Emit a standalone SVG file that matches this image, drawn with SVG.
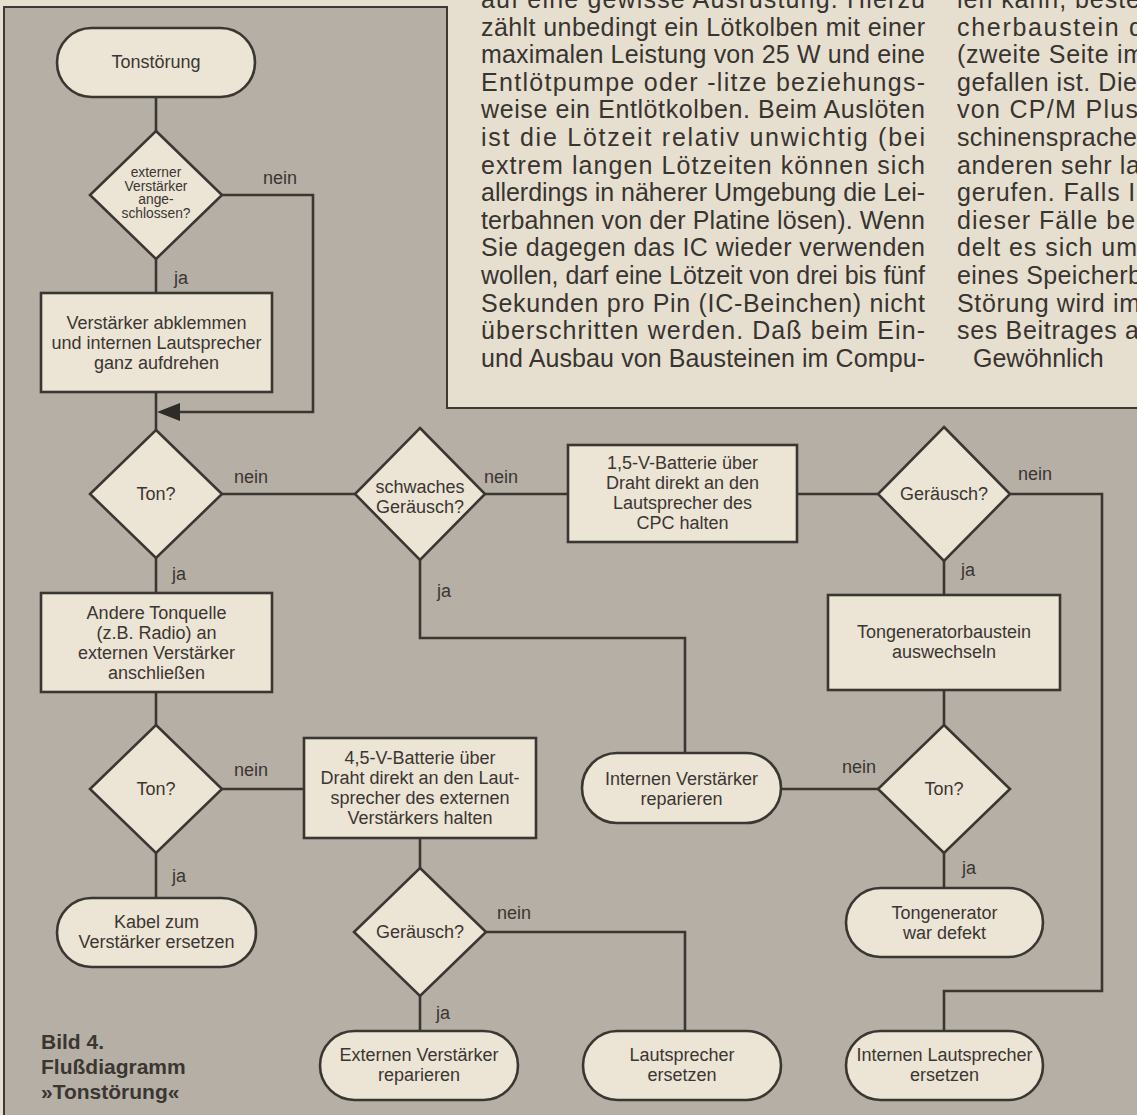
<svg xmlns="http://www.w3.org/2000/svg" width="1137" height="1115" viewBox="0 0 1137 1115">
<style>
.bg{fill:#e6dfd0}
.panel{fill:#b6afa5}
.border{fill:none;stroke:#3d3a36;stroke-width:2}
.n{fill:#ece4d5;stroke:#3a3733;stroke-width:2.6}
.c{fill:none;stroke:#3a3733;stroke-width:2.6}
.t{font-family:"Liberation Sans",Arial,Helvetica,sans-serif;font-size:18px;fill:#3a3632;text-anchor:middle}
.ts{font-family:"Liberation Sans",Arial,Helvetica,sans-serif;font-size:13.8px;fill:#3a3632;text-anchor:middle}
.l{font-family:"Liberation Sans",Arial,Helvetica,sans-serif;font-size:18px;fill:#3a3632;text-anchor:middle}
.body{font-family:"Liberation Sans",Arial,Helvetica,sans-serif;font-size:25px;fill:#38342f}
.cap{font-family:"Liberation Sans",Arial,Helvetica,sans-serif;font-size:21px;font-weight:bold;fill:#3a3632}
</style>
<rect class="bg" x="0" y="0" width="1137" height="1115"/>
<polygon class="panel" points="4,7 447,7 447,408 1137,408 1137,1115 4,1115"/>
<polyline class="border" points="4,1115 4,7 447,7 447,408 1137,408"/>

<g id="textblock">
<text class="body" x="481" y="8" textLength="444" lengthAdjust="spacing">auf eine gewisse Ausrüstung. Hierzu</text>
<text class="body" x="481" y="35.6" textLength="444" lengthAdjust="spacing">zählt unbedingt ein Lötkolben mit einer</text>
<text class="body" x="481" y="63.2" textLength="444" lengthAdjust="spacing">maximalen Leistung von 25 W und eine</text>
<text class="body" x="481" y="90.8" textLength="444" lengthAdjust="spacing">Entlötpumpe oder -litze beziehungs-</text>
<text class="body" x="481" y="118.4" textLength="444" lengthAdjust="spacing">weise ein Entlötkolben. Beim Auslöten</text>
<text class="body" x="481" y="146" textLength="444" lengthAdjust="spacing">ist die Lötzeit relativ unwichtig (bei</text>
<text class="body" x="481" y="173.6" textLength="444" lengthAdjust="spacing">extrem langen Lötzeiten können sich</text>
<text class="body" x="481" y="201.2" textLength="444" lengthAdjust="spacing">allerdings in näherer Umgebung die Lei-</text>
<text class="body" x="481" y="228.8" textLength="444" lengthAdjust="spacing">terbahnen von der Platine lösen). Wenn</text>
<text class="body" x="481" y="256.4" textLength="444" lengthAdjust="spacing">Sie dagegen das IC wieder verwenden</text>
<text class="body" x="481" y="284" textLength="444" lengthAdjust="spacing">wollen, darf eine Lötzeit von drei bis fünf</text>
<text class="body" x="481" y="311.6" textLength="444" lengthAdjust="spacing">Sekunden pro Pin (IC-Beinchen) nicht</text>
<text class="body" x="481" y="339.2" textLength="444" lengthAdjust="spacing">überschritten werden. Daß beim Ein-</text>
<text class="body" x="481" y="366.8" textLength="444" lengthAdjust="spacing">und Ausbau von Bausteinen im Compu-</text>
<text class="body" x="957" y="8" textLength="183" lengthAdjust="spacing">len kann, beste</text>
<text class="body" x="957" y="35.6" textLength="186" lengthAdjust="spacing">cherbaustein d</text>
<text class="body" x="957" y="63.2" textLength="187" lengthAdjust="spacing">(zweite Seite im</text>
<text class="body" x="957" y="90.8" textLength="180" lengthAdjust="spacing">gefallen ist. Die</text>
<text class="body" x="957" y="118.4" textLength="181" lengthAdjust="spacing">von CP/M Plus</text>
<text class="body" x="957" y="146" textLength="180" lengthAdjust="spacing">schinensprache</text>
<text class="body" x="957" y="173.6" textLength="183" lengthAdjust="spacing">anderen sehr la</text>
<text class="body" x="957" y="201.2" textLength="193" lengthAdjust="spacing">gerufen. Falls Ih</text>
<text class="body" x="957" y="228.8" textLength="193" lengthAdjust="spacing">dieser Fälle beh</text>
<text class="body" x="957" y="256.4" textLength="180" lengthAdjust="spacing">delt es sich um</text>
<text class="body" x="957" y="284" textLength="185" lengthAdjust="spacing">eines Speicherb</text>
<text class="body" x="957" y="311.6" textLength="183" lengthAdjust="spacing">Störung wird im</text>
<text class="body" x="957" y="339.2" textLength="182" lengthAdjust="spacing">ses Beitrages a</text>
<text class="body" x="973" y="366.8">Gewöhnlich</text>
</g>

<g id="connectors">
<line class="c" x1="156" y1="97" x2="156" y2="131"/>
<line class="c" x1="156" y1="259" x2="156" y2="293"/>
<polyline class="c" points="222,195 313,195 313,412 178,412"/>
<polygon points="157,412 180,403 180,421" fill="#2e2c29"/>
<line class="c" x1="156" y1="392" x2="156" y2="430"/>
<line class="c" x1="222" y1="494" x2="355" y2="494"/>
<line class="c" x1="485" y1="494" x2="568" y2="494"/>
<line class="c" x1="797" y1="494" x2="879" y2="494"/>
<polyline class="c" points="1010,494 1102,494 1102,991 944,991 944,1031"/>
<line class="c" x1="944" y1="561" x2="944" y2="595"/>
<line class="c" x1="944" y1="690" x2="944" y2="725"/>
<line class="c" x1="878" y1="789" x2="781" y2="789"/>
<line class="c" x1="944" y1="853" x2="944" y2="888"/>
<polyline class="c" points="420,560 420,638 685,638 685,753"/>
<line class="c" x1="156" y1="558" x2="156" y2="593"/>
<line class="c" x1="156" y1="692" x2="156" y2="725"/>
<line class="c" x1="222" y1="789" x2="304" y2="789"/>
<line class="c" x1="156" y1="853" x2="156" y2="898"/>
<line class="c" x1="420" y1="838" x2="420" y2="868"/>
<polyline class="c" points="486,932 685,932 685,1031"/>
<line class="c" x1="420" y1="996" x2="420" y2="1031"/>
<text class="l" x="280" y="184">nein</text>
<text class="l" x="181" y="284">ja</text>
<text class="l" x="251" y="483">nein</text>
<text class="l" x="179" y="580">ja</text>
<text class="l" x="501" y="483">nein</text>
<text class="l" x="444" y="597">ja</text>
<text class="l" x="1035" y="480">nein</text>
<text class="l" x="968" y="576">ja</text>
<text class="l" x="859" y="773">nein</text>
<text class="l" x="969" y="874">ja</text>
<text class="l" x="251" y="776">nein</text>
<text class="l" x="179" y="882">ja</text>
<text class="l" x="514" y="919">nein</text>
<text class="l" x="443" y="1019">ja</text>
</g>

<g id="n_start">
<rect class="n" x="57" y="28" width="198" height="69" rx="34.5"/>
<text class="t" x="156" y="68">Tonstörung</text>
</g>
<g id="n_extern">
<polygon class="n" points="156,131 222,195 156,259 90,195"/>
<text class="ts" x="156" y="177">externer</text>
<text class="ts" x="156" y="190.5">Verstärker</text>
<text class="ts" x="156" y="204">ange-</text>
<text class="ts" x="156" y="217.5">schlossen?</text>
</g>
<g id="n_abklemmen">
<rect class="n" x="41" y="293" width="231" height="99"/>
<text class="t" x="156.5" y="328.5">Verstärker abklemmen</text>
<text class="t" x="156.5" y="348.5">und internen Lautsprecher</text>
<text class="t" x="156.5" y="368.5">ganz aufdrehen</text>
</g>
<g id="n_ton1">
<polygon class="n" points="156,430 222,494 156,558 90,494"/>
<text class="t" x="156" y="500">Ton?</text>
</g>
<g id="n_schwach">
<polygon class="n" points="420,428 485,494 420,560 355,494"/>
<text class="t" x="420" y="493">schwaches</text>
<text class="t" x="420" y="513">Geräusch?</text>
</g>
<g id="n_bat15">
<rect class="n" x="568" y="445" width="229" height="97"/>
<text class="t" x="682.5" y="469">1,5-V-Batterie über</text>
<text class="t" x="682.5" y="489">Draht direkt an den</text>
<text class="t" x="682.5" y="509">Lautsprecher des</text>
<text class="t" x="682.5" y="529">CPC halten</text>
</g>
<g id="n_geraeusch1">
<polygon class="n" points="944,427 1010,494 944,561 878,494"/>
<text class="t" x="944" y="500">Geräusch?</text>
</g>
<g id="n_tongen">
<rect class="n" x="828" y="595" width="232" height="95"/>
<text class="t" x="944" y="638">Tongeneratorbaustein</text>
<text class="t" x="944" y="658">auswechseln</text>
</g>
<g id="n_ton3">
<polygon class="n" points="944,725 1010,789 944,853 878,789"/>
<text class="t" x="944" y="795">Ton?</text>
</g>
<g id="n_intverst">
<rect class="n" x="582" y="753" width="199" height="70" rx="35"/>
<text class="t" x="681.5" y="785">Internen Verstärker</text>
<text class="t" x="681.5" y="805">reparieren</text>
</g>
<g id="n_defekt">
<rect class="n" x="846" y="888" width="197" height="69" rx="34.5"/>
<text class="t" x="944.5" y="919">Tongenerator</text>
<text class="t" x="944.5" y="939">war defekt</text>
</g>
<g id="n_andere">
<rect class="n" x="41" y="593" width="231" height="99"/>
<text class="t" x="156.5" y="618.5">Andere Tonquelle</text>
<text class="t" x="156.5" y="638.5">(z.B. Radio) an</text>
<text class="t" x="156.5" y="658.5">externen Verstärker</text>
<text class="t" x="156.5" y="678.5">anschließen</text>
</g>
<g id="n_ton2">
<polygon class="n" points="156,725 222,789 156,853 90,789"/>
<text class="t" x="156" y="795">Ton?</text>
</g>
<g id="n_kabel">
<rect class="n" x="57" y="898" width="199" height="69" rx="34.5"/>
<text class="t" x="156.5" y="928">Kabel zum</text>
<text class="t" x="156.5" y="948">Verstärker ersetzen</text>
</g>
<g id="n_bat45">
<rect class="n" x="304" y="738" width="232" height="100"/>
<text class="t" x="420" y="764">4,5-V-Batterie über</text>
<text class="t" x="420" y="784">Draht direkt an den Laut-</text>
<text class="t" x="420" y="804">sprecher des externen</text>
<text class="t" x="420" y="824">Verstärkers halten</text>
</g>
<g id="n_geraeusch2">
<polygon class="n" points="420,868 486,932 420,996 354,932"/>
<text class="t" x="420" y="938">Geräusch?</text>
</g>
<g id="n_extverst">
<rect class="n" x="320" y="1031" width="198" height="69" rx="34.5"/>
<text class="t" x="419" y="1061">Externen Verstärker</text>
<text class="t" x="419" y="1081">reparieren</text>
</g>
<g id="n_ls">
<rect class="n" x="583" y="1031" width="198" height="69" rx="34.5"/>
<text class="t" x="682" y="1061">Lautsprecher</text>
<text class="t" x="682" y="1081">ersetzen</text>
</g>
<g id="n_intls">
<rect class="n" x="846" y="1031" width="197" height="69" rx="34.5"/>
<text class="t" x="944.5" y="1061">Internen Lautsprecher</text>
<text class="t" x="944.5" y="1081">ersetzen</text>
</g>

<g id="caption">
<text class="cap" x="41" y="1049">Bild 4.</text>
<text class="cap" x="41" y="1074">Flußdiagramm</text>
<text class="cap" x="41" y="1099">»Tonstörung«</text>
</g>
</svg>
